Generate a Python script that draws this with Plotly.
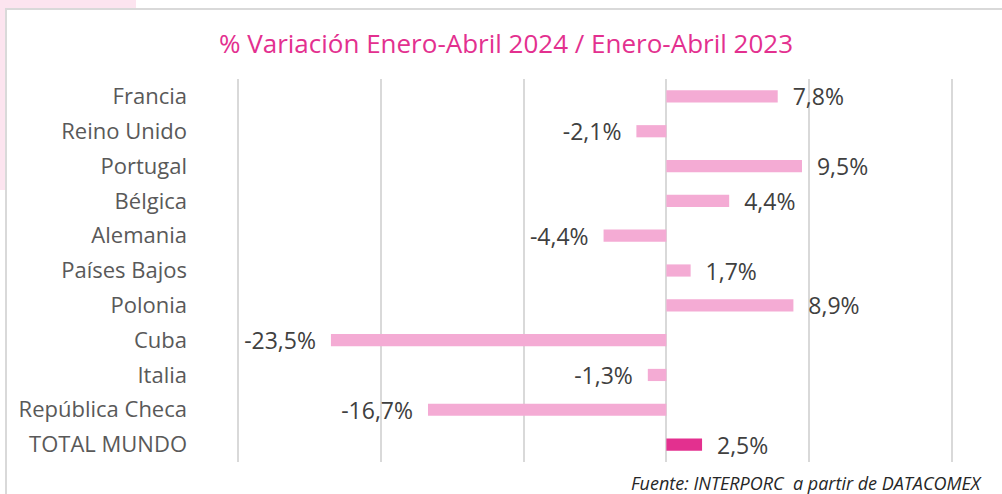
import plotly.graph_objects as go

# Year-over-year change, January-April 2024 vs January-April 2023
countries = [
    "Francia", "Reino Unido", "Portugal", "Bélgica", "Alemania",
    "Países Bajos", "Polonia", "Cuba", "Italia", "República Checa",
    "TOTAL MUNDO",
]
variation = [7.8, -2.1, 9.5, 4.4, -4.4, 1.7, 8.9, -23.5, -1.3, -16.7, 2.5]
x_ticks = [-30, -20, -10, 0, 10, 20]

LIGHT_PINK = "#f4abd4"
DEEP_PINK = "#e3308f"
GRID = "#d9d9d9"
TEXT = "#595959"
LABEL = "#404040"
FONT = "Open Sans"


def fmt(v):
    s = f"{v:.1f}".replace(".", ",") + "%"
    return "  " + s if v >= 0 else s + "  "


colors = [DEEP_PINK if c == "TOTAL MUNDO" else LIGHT_PINK for c in countries]

fig = go.Figure(
    go.Bar(
        y=countries,
        x=variation,
        orientation="h",
        marker=dict(color=colors, line=dict(width=0)),
        width=0.35,
        text=[fmt(v) for v in variation],
        textposition="outside",
        constraintext="none",
        cliponaxis=False,
        textfont=dict(family=FONT, size=23, color=LABEL),
        hoverinfo="skip",
    )
)

# plot area geometry in pixels (used for the decorative frame)
W, H = 1002, 494
L, R, T, B = 237, 49, 79, 32
pw, ph = W - L - R, H - T - B


def px_x(p):
    return (p - L) / pw


def px_y(p):
    return (H - B - p) / ph


shapes = [
    # pink tab behind the frame
    dict(type="rect", xref="paper", yref="paper",
         x0=px_x(0), x1=px_x(136), y0=px_y(190), y1=px_y(0),
         fillcolor="#fce4ef", line=dict(width=0), layer="below"),
    # white framed panel
    dict(type="rect", xref="paper", yref="paper",
         x0=px_x(6), x1=px_x(1010), y0=px_y(500), y1=px_y(9),
         fillcolor="white", line=dict(color=GRID, width=2), layer="below"),
]

fig.update_layout(
    width=W, height=H,
    margin=dict(l=L, r=R, t=T, b=B),
    paper_bgcolor="white",
    plot_bgcolor="rgba(0,0,0,0)",
    showlegend=False,
    shapes=shapes,
    title=dict(
        text="% Variación Enero-Abril 2024 / Enero-Abril 2023",
        x=0.505, xanchor="center", y=1 - 44 / H, yanchor="middle",
        font=dict(family=FONT, size=26, color=DEEP_PINK),
    ),
    xaxis=dict(
        range=[-30.08, 20.08], tickvals=x_ticks, showticklabels=False,
        showgrid=True, gridcolor=GRID, gridwidth=2,
        zeroline=True, zerolinecolor=GRID, zerolinewidth=2,
        fixedrange=True,
    ),
    yaxis=dict(
        categoryorder="array", categoryarray=countries, autorange="reversed",
        showgrid=False, ticks="", ticklabelstandoff=49,
        tickfont=dict(family=FONT, size=22, color=TEXT),
        fixedrange=True,
    ),
    annotations=[
        dict(
            text="<i>Fuente: INTERPORC  a partir de DATACOMEX</i>",
            xref="paper", yref="paper", x=px_x(984), y=px_y(483),
            xanchor="right", yanchor="middle", showarrow=False,
            font=dict(family=FONT, size=18, color="#262626"),
        )
    ],
)

fig.write_html("out.html")
